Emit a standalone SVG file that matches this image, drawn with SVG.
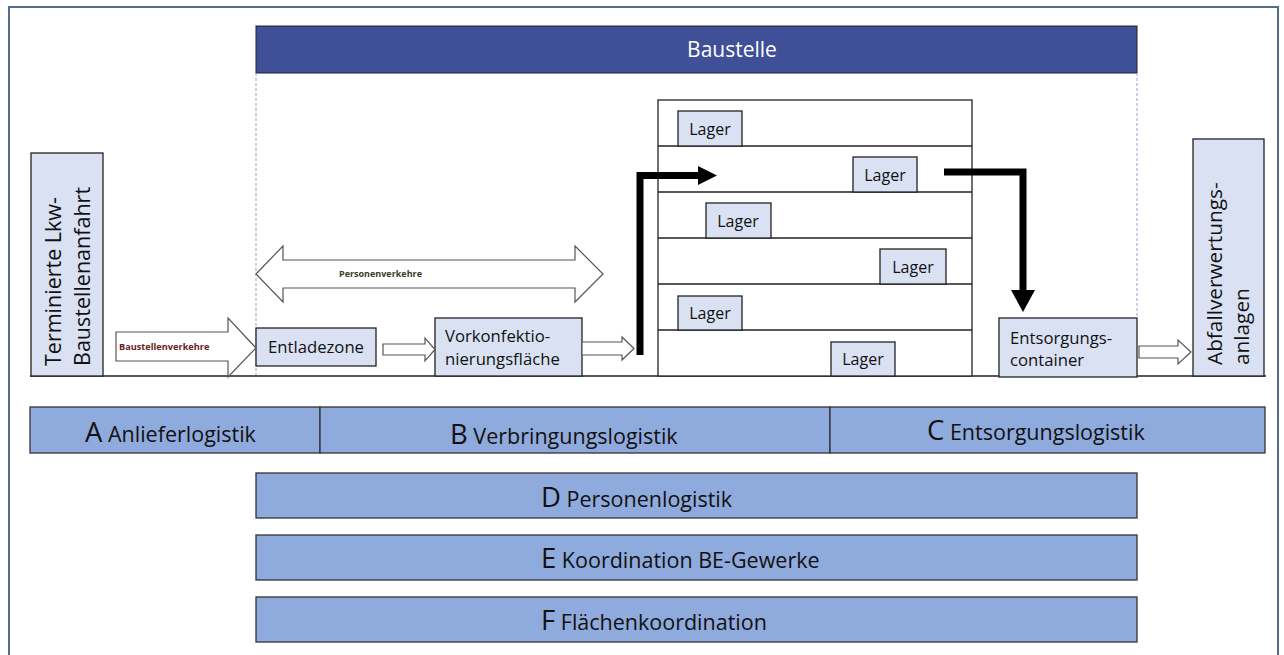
<svg xmlns="http://www.w3.org/2000/svg" width="1284" height="655" viewBox="0 0 1284 655">
<style>
text{font-family:"Open Sans",Lato,"Liberation Sans",sans-serif;fill:#111}
.lb{fill:#dae1f3;stroke:#222;stroke-width:1.3}
.bar{fill:#8faadc;stroke:#333;stroke-width:1.3}
.bl{fill:#fff;stroke:#555;stroke-width:1.2}
.ln{stroke:#222;stroke-width:1.3;fill:none}
.dash{stroke:#8fa6cf;stroke-width:1;stroke-dasharray:3 2;fill:none}
.thick{stroke:#000;stroke-width:7;fill:none;stroke-linejoin:miter}
.t15{font-size:16.7px}
.lg{font-size:16px}
.big{font-size:27.5px}
.mid{font-size:21.5px}
</style>
<rect x="9" y="7" width="1269" height="670" fill="#fff" stroke="#566c8c" stroke-width="2"/>
<g id="baustelle">
<rect x="256" y="26" width="881" height="47" fill="#3f4f98" stroke="#222" stroke-width="1"/>
<text x="732" y="57" font-size="21" text-anchor="middle" style="fill:#fff">Baustelle</text>
</g>
<line class="dash" x1="256" y1="73" x2="256" y2="376"/>
<line class="dash" x1="1137" y1="73" x2="1137" y2="318"/>
<line class="ln" x1="30" y1="376" x2="1266" y2="376"/>
<g id="terminierte">
<rect class="lb" x="31" y="153" width="72" height="223"/>
<text transform="translate(61,366) rotate(-90)" font-size="21.5">Terminierte Lkw-</text>
<text transform="translate(90,366) rotate(-90)" font-size="21.5">Baustellenanfahrt</text>
</g>
<g id="gebaeude">
<rect x="658" y="100" width="314" height="276" fill="#fff" stroke="#222" stroke-width="1.3"/>
<path class="ln" d="M658 146H972M658 192H972M658 238H972M658 284H972M658 330H972"/>
</g>
<g id="lager1"><rect class="lb" x="678" y="111" width="64" height="35"/><text class="lg" x="710" y="135" text-anchor="middle">Lager</text></g>
<g id="lager2"><rect class="lb" x="853" y="157" width="64" height="35"/><text class="lg" x="885" y="181" text-anchor="middle">Lager</text></g>
<g id="lager3"><rect class="lb" x="706" y="203" width="65" height="35"/><text class="lg" x="738" y="227" text-anchor="middle">Lager</text></g>
<g id="lager4"><rect class="lb" x="880" y="249" width="66" height="35"/><text class="lg" x="913" y="273" text-anchor="middle">Lager</text></g>
<g id="lager5"><rect class="lb" x="678" y="296" width="64" height="34"/><text class="lg" x="710" y="319" text-anchor="middle">Lager</text></g>
<g id="lager6"><rect class="lb" x="831" y="342" width="64" height="34"/><text class="lg" x="863" y="365" text-anchor="middle">Lager</text></g>
<g id="entladezone"><rect class="lb" x="256" y="328" width="120" height="38"/><text class="t15" x="316" y="353" text-anchor="middle">Entladezone</text></g>
<g id="vorkonfektionierung"><rect class="lb" x="435" y="318" width="147" height="58"/><text class="t15" x="445" y="342">Vorkonfektio-</text><text class="t15" x="445" y="365">nierungsfläche</text></g>
<g id="entsorgungscontainer"><rect class="lb" x="999" y="318" width="138" height="59"/><text class="t15" x="1010" y="344">Entsorgungs-</text><text class="t15" x="1010" y="366">container</text></g>
<g id="abfallverwertung">
<rect class="lb" x="1193" y="139" width="71" height="237"/>
<text transform="translate(1222,365) rotate(-90)" font-size="20.8">Abfallverwertungs-</text>
<text transform="translate(1249,365) rotate(-90)" font-size="20.8">anlagen</text>
</g>
<g id="connectors">
<polygon class="bl" points="116,332 228,332 228,318 256,348 228,377 228,361 116,361"/>
<text x="119" y="350" font-size="9.2" font-weight="bold" style="fill:#6a2222">Baustellenverkehre</text>
<polygon class="bl" points="256,274 283,246 283,260 575,260 575,246 603,274 575,302 575,288 283,288 283,302"/>
<text x="339" y="277" font-size="9" font-weight="bold" style="fill:#3c3c28">Personenverkehre</text>
<polygon class="bl" points="383,344 425,344 425,338 435,349.5 425,361 425,355 383,355"/>
<polygon class="bl" points="582,342 622,342 622,337 634,348.5 622,360 622,355 582,355"/>
<polygon class="bl" points="1139,346 1178,346 1178,340 1191,352 1178,364 1178,358 1139,358"/>
<path class="thick" d="M640 355V175.5H700"/>
<polygon points="698,166 717,175.5 698,185" fill="#000"/>
<path class="thick" d="M944 172H1023V292"/>
<polygon points="1011,290 1035,290 1023,312" fill="#000"/>
</g>
<g id="bar-a"><rect class="bar" x="30" y="407" width="290" height="46"/><text x="85" y="442"><tspan class="big">A</tspan><tspan class="mid"> Anlieferlogistik</tspan></text></g>
<g id="bar-b"><rect class="bar" x="320" y="407" width="510" height="46"/><text x="450" y="444"><tspan class="big">B</tspan><tspan class="mid"> Verbringungslogistik</tspan></text></g>
<g id="bar-c"><rect class="bar" x="830" y="407" width="435" height="46"/><text x="927" y="440"><tspan class="big">C</tspan><tspan class="mid"> Entsorgungslogistik</tspan></text></g>
<g id="bar-d"><rect class="bar" x="256" y="473" width="881" height="45"/><text x="541" y="507"><tspan class="big">D</tspan><tspan class="mid"> Personenlogistik</tspan></text></g>
<g id="bar-e"><rect class="bar" x="256" y="535" width="881" height="45"/><text x="541" y="568"><tspan class="big">E</tspan><tspan class="mid"> Koordination BE-Gewerke</tspan></text></g>
<g id="bar-f"><rect class="bar" x="256" y="597" width="881" height="45"/><text x="541" y="630"><tspan class="big">F</tspan><tspan class="mid"> Flächenkoordination</tspan></text></g>
</svg>
